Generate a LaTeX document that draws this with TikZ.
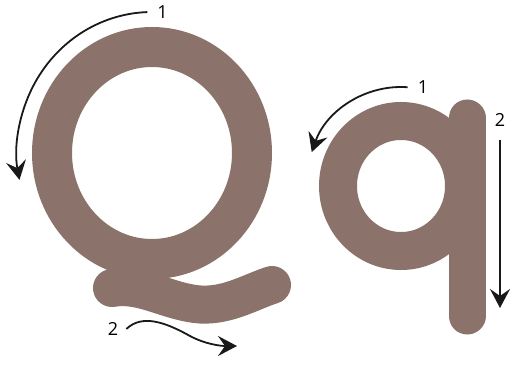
\documentclass[tikz,border=0pt]{standalone}
\usepackage{fontspec}
\setmainfont{Open Sans}
\usepackage{xcolor}
\usetikzlibrary{arrows.meta, positioning}
\definecolor{letterbrown}{RGB}{139,115,108}

\begin{document}
\begin{tikzpicture}[x=1pt, y=1pt, >={Stealth[length=19pt, width=20pt, inset=7pt]},
    stroke/.style={draw=letterbrown, line width=#1, line cap=round},
    guide/.style={draw=black!90, line width=1.8pt, ->},
    num/.style={font=\fontsize{18}{20}\selectfont, inner sep=1pt}]
    \useasboundingbox (0,0) rectangle (513,364);

    % Chữ Q lớn: vòng tròn và nét đuôi
    \draw[stroke=40] (152,211) ellipse [x radius=100, y radius=106];
    \draw[stroke=38] (112,76) .. controls (140,81) and (165,64) .. (195,60)
        .. controls (225,56) and (250,72) .. (272,79);

    % Chữ q nhỏ: thân tròn và nét sổ
    \draw[stroke=38] (401,178) ellipse [x radius=63, y radius=65];
    \draw[stroke=37] (467,246) -- (467,48);

    % Mũi tên chỉ thứ tự nét của Q
    \coordinate (Qc) at (152,211);
    \coordinate (Qa) at ([shift={(92:135 and 141)}]Qc);
    \node[num, right=9pt of Qa] (Q1) {1};
    \draw[guide] (Qa) arc[start angle=92, end angle=191, x radius=135, y radius=141];

    \node[num] (Q2) at (113,35) {2};
    \coordinate[right=7pt of Q2] (Qb);
    \coordinate (Qe) at (237,18);
    \draw[guide] (Qb) .. controls (142,50) and (165,42) .. (190,28)
        .. controls (205,20) and (220,18) .. (Qe);

    % Mũi tên chỉ thứ tự nét của q
    \coordinate (qc) at (401,178);
    \coordinate (qa) at ([shift={(86:95 and 99)}]qc);
    \node[num, right=9pt of qa] (q1) {1};
    \draw[guide] (qa) arc[start angle=86, end angle=160, x radius=95, y radius=99];

    \node[num] (q2) at (500,244) {2};
    \coordinate[below=12pt of q2] (qb);
    \coordinate (qe) at (500,56);
    \draw[guide] (qb) -- (qe);
\end{tikzpicture}
\end{document}
